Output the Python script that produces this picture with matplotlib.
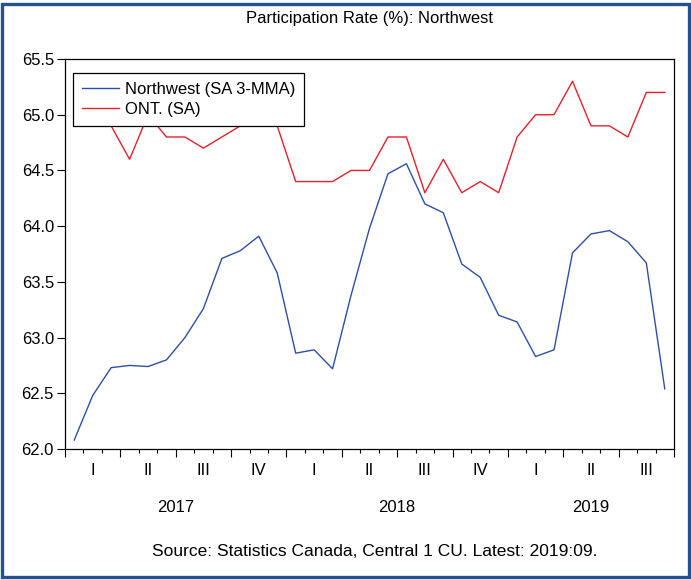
import matplotlib
matplotlib.use("Agg")
import matplotlib.pyplot as plt
from matplotlib.patches import Rectangle
import numpy as np

plt.rcParams['font.family'] = ['Liberation Sans', 'DejaVu Sans']

# Monthly participation rate, Jan 2017 - Sep 2019
northwest = [62.08, 62.48, 62.73, 62.75, 62.74, 62.80, 63.00, 63.26, 63.71, 63.78,
             63.91, 63.58, 62.86, 62.89, 62.72, 63.38, 63.98, 64.47, 64.56, 64.20,
             64.12, 63.66, 63.54, 63.20, 63.14, 62.83, 62.89, 63.76, 63.93, 63.96,
             63.86, 63.67, 62.54]
ontario = [65.0, 65.0, 64.9, 64.6, 65.0, 64.8, 64.8, 64.7, 64.8, 64.9,
           64.9, 64.9, 64.4, 64.4, 64.4, 64.5, 64.5, 64.8, 64.8, 64.3,
           64.6, 64.3, 64.4, 64.3, 64.8, 65.0, 65.0, 65.3, 64.9, 64.9,
           64.8, 65.2, 65.2]
quarter_labels = ["I", "II", "III", "IV", "I", "II", "III", "IV", "I", "II", "III"]
years = ["2017", "2018", "2019"]
year_months = [12, 12, 9]
y_ticks = [62.0, 62.5, 63.0, 63.5, 64.0, 64.5, 65.0, 65.5]

W, H = 691, 580
fig = plt.figure(figsize=(W / 100, H / 100), dpi=100)
ax = fig.add_axes([65 / W, 1 - 449 / H, 609 / W, 390 / H])

n = len(northwest)
x = np.arange(n) + 0.5
ax.plot(x, northwest, color="#2E4FA8", lw=1.0, label="Northwest (SA 3-MMA)")
ax.plot(x, ontario, color="#E8202A", lw=1.0, label="ONT. (SA)")

ax.set_xlim(0, n)
ax.set_ylim(62.0, 65.5)
ax.set_yticks(y_ticks)
ax.set_yticklabels([f"{v:.1f}" for v in y_ticks])
ax.set_xticks(np.arange(0, n + 1, 3))
ax.set_xticks(np.arange(0, n + 1), minor=True)
ax.set_xticklabels([])
ax.tick_params(axis="y", direction="out", length=6, width=0.8, labelsize=12, pad=2)
ax.tick_params(axis="x", which="major", direction="out", length=6, width=0.8)
ax.tick_params(axis="x", which="minor", direction="out", length=3, width=0.8)
for s in ax.spines.values():
    s.set_linewidth(0.9)
    s.set_color("black")

trans = ax.get_xaxis_transform()
for i, q in enumerate(quarter_labels):
    ax.text(3 * i + 1.5, -0.055, q, transform=trans, ha="center", va="center", fontsize=12)
start = 0
for yr, m in zip(years, year_months):
    ax.text(start + m / 2, -0.15, yr, transform=trans, ha="center", va="center", fontsize=12)
    start += m

fig.text(370 / W, 1 - 19 / H, "Participation Rate (%): Northwest", ha="center", va="center", fontsize=12)
fig.text(375 / W, 1 - 551 / H, "Source: Statistics Canada, Central 1 CU. Latest: 2019:09.",
         ha="center", va="center", fontsize=12.5)

leg = ax.legend(loc="upper left", bbox_to_anchor=(8 / 609, 1 - 14 / 390), borderaxespad=0,
                fontsize=12, frameon=True, fancybox=False, edgecolor="black", framealpha=1,
                handlelength=2.2, handletextpad=0.35, borderpad=0.55, labelspacing=0.3)
leg.get_frame().set_linewidth(0.9)

fig.patches.append(Rectangle((1.5 / W, 3.5 / H), (W - 4) / W, (H - 7) / H, transform=fig.transFigure,
                             fill=False, edgecolor="#24508F", linewidth=2.4))

fig.savefig("out.png", dpi=100)
